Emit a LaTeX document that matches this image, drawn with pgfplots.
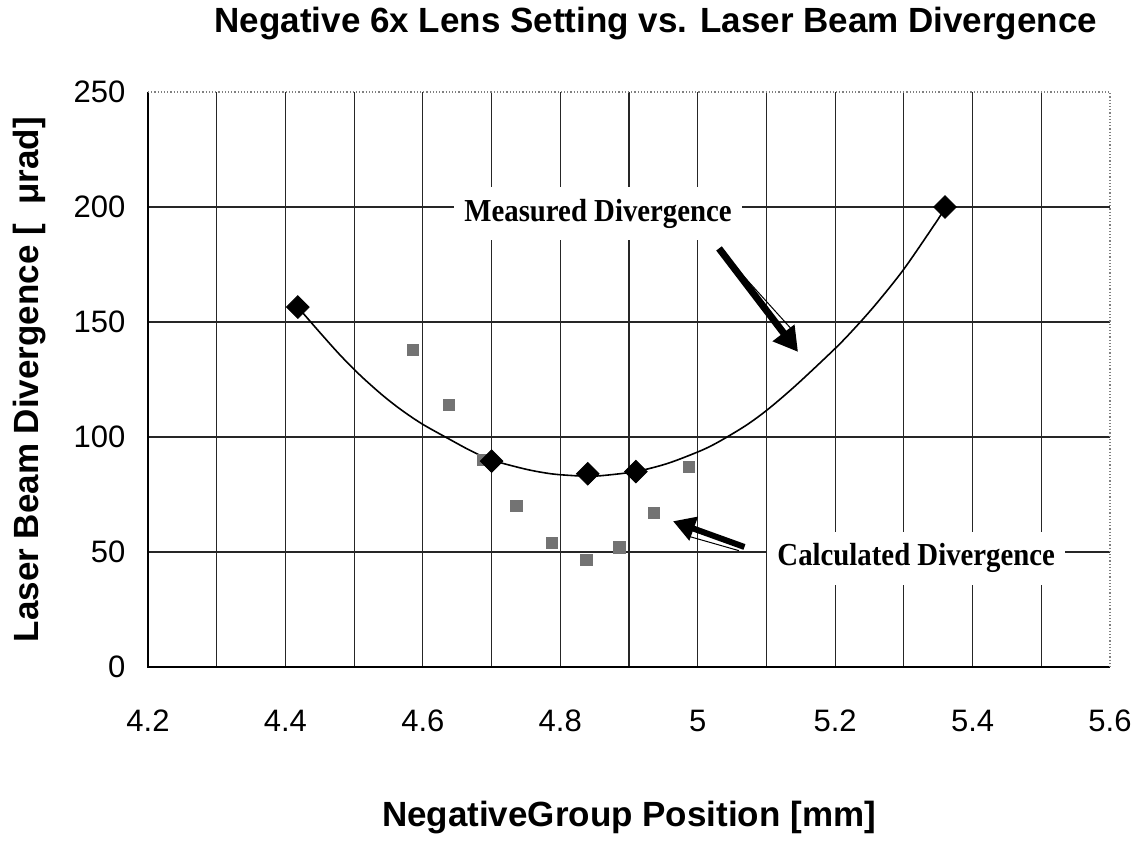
\documentclass[border=0pt]{standalone}
\usepackage{fontspec}
\setmainfont{Liberation Sans}
\newfontfamily\timesfont{Liberation Serif}
\usepackage{graphicx}
\usepackage{pgfplots}
\usepackage{pgfplotstable}
\pgfplotsset{compat=1.18}
\usetikzlibrary{arrows.meta}

\pgfplotstableread{
x y
4.418 156.5
4.700 89.5
4.840 84
4.910 85
5.360 200
}\measured

\pgfplotstableread{
x y
4.418 156.5
4.450 145.5
4.480 135.5
4.510 126.5
4.542 118
4.570 111.5
4.600 105.5
4.642 98.5
4.670 94
4.700 90
4.750 86
4.787 84
4.820 83.2
4.840 83
4.860 83.2
4.910 85
4.956 88.5
5.004 94
5.031 98
5.070 105
5.102 112
5.143 122.5
5.200 138.5
5.229 147.5
5.260 158
5.300 173
5.346 193
5.360 199.5
}\fitcurve

\pgfplotstableread{
x y
4.586 138
4.638 114
4.687 90
4.736 70
4.788 54
4.838 46.5
4.886 52
4.936 67
4.987 87
}\calculated

\begin{document}
\begin{tikzpicture}
\begin{axis}[
  scale only axis, width=481pt, height=287.5pt,
  xmin=4.2, xmax=5.6, ymin=0, ymax=250,
  xtick={4.2,4.4,4.6,4.8,5.0,5.2,5.4,5.6},
  xticklabels={4.2,4.4,4.6,4.8,5,5.2,5.4,5.6},
  ytick={0,50,100,150,200,250},
  minor xtick={4.3,4.4,4.5,4.6,4.7,4.8,4.9,5.0,5.1,5.2,5.3,5.4,5.5},
  minor ytick={50,100,150,200},
  xminorgrids, yminorgrids,
  minor grid style={black!85, line width=0.6pt},
  major tick length=0pt, minor tick length=0pt,
  axis line style={draw=none},
  ticklabel style={font=\fontsize{15.5}{18}\selectfont},
  xticklabel style={yshift=-18pt},
  yticklabel style={xshift=-7.8pt},
  /pgf/number format/assume math mode=true,
  clip=false,
  title={Negative 6x Lens Setting vs. Laser Beam Divergence},
  title style={at={(axis description cs:0.528,1.0835)}, anchor=base, font=\bfseries\fontsize{17.5}{21}\selectfont},
  xlabel={NegativeGroup Position [mm]},
  xlabel style={at={(axis description cs:0.5,-0.2765)}, anchor=base, font=\bfseries\fontsize{17.5}{21}\selectfont},
  ylabel={Laser Beam Divergence [~~μrad]},
  ylabel style={at={(axis description cs:-0.1227,0.5)}, anchor=center, font=\bfseries\fontsize{17.5}{21}\selectfont},
]
\draw[black, line width=0.8pt] (rel axis cs:0,1) -- (rel axis cs:0,0) -- (rel axis cs:1,0);
\draw[black!50, densely dotted, line width=0.6pt] (rel axis cs:0,1) -- (rel axis cs:1,1) -- (rel axis cs:1,0);

% label boxes
\node[fill=white, inner xsep=5pt, inner ysep=6pt, text height=11pt, text depth=3.5pt, anchor=base,
  font={\fontsize{16}{19}\timesfont\bfseries}] at (axis cs:4.855,193.9) {\scalebox{0.9}[1]{Measured Divergence}};
\node[fill=white, inner xsep=5pt, inner ysep=6pt, text height=11pt, text depth=3.5pt, anchor=base,
  font={\fontsize{16}{19}\timesfont\bfseries}] at (axis cs:5.318,44) {\scalebox{0.9}[1]{Calculated Divergence}};

\addplot[only marks, mark=square*, mark size=2.8pt, mark options={fill=black!55, draw=black!55}] table {\calculated};
\addplot[smooth, black, line width=0.8pt, mark=none] table {\fitcurve};
\addplot[only marks, mark=square*, mark size=4pt, mark options={rotate=45, fill=black, draw=black}] table {\measured};

% arrows
\draw[line width=0.5pt] (axis cs:5.053,174.5) -- (axis cs:5.138,146.4);
\draw[line width=3.5pt, -{Triangle[length=12pt, width=13pt]}] (axis cs:5.031,182) -- (axis cs:5.146,137);
\draw[line width=0.5pt] (axis cs:5.06,50.6) -- (axis cs:4.985,57);
\draw[line width=3pt, -{Triangle[length=11pt, width=12pt]}] (axis cs:5.068,52.2) -- (axis cs:4.964,63.4);
\end{axis}
\path ([xshift=-74pt,yshift=-86.5pt]current axis.south west) rectangle ([xshift=15pt,yshift=44pt]current axis.north east);
\end{tikzpicture}
\end{document}
